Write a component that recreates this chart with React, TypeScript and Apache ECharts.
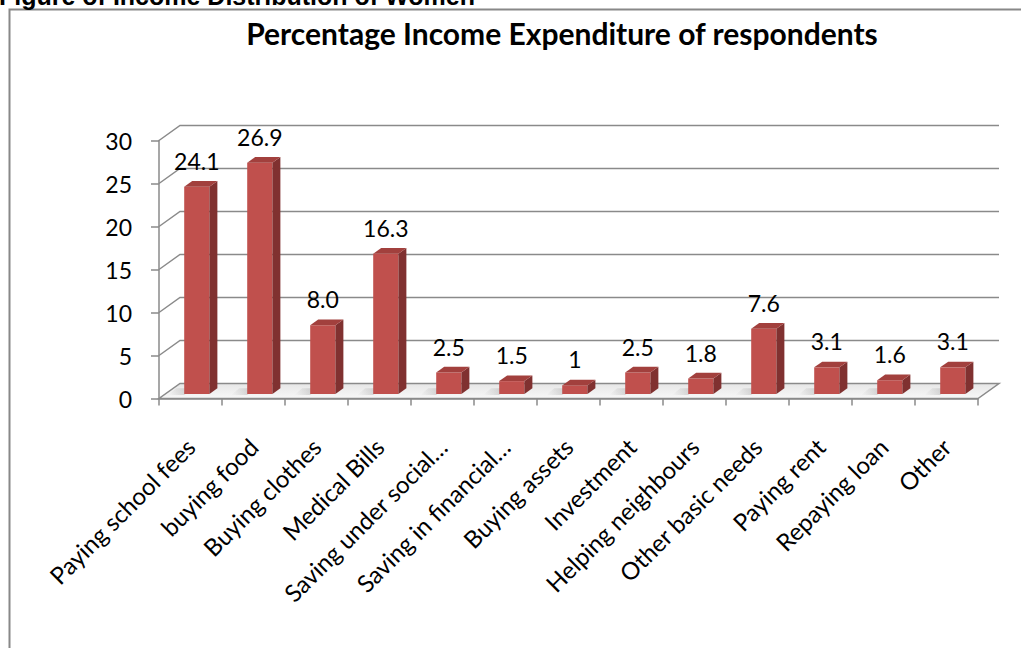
import React, { useEffect, useRef } from "react";
import * as echarts from "echarts";

const categories = [
  "Paying school fees",
  "buying food",
  "Buying clothes",
  "Medical Bills",
  "Saving under social…",
  "Saving in financial…",
  "Buying assets",
  "Investment",
  "Helping neighbours",
  "Other basic needs",
  "Paying rent",
  "Repaying loan",
  "Other",
];
const values = [24.1, 26.9, 8.0, 16.3, 2.5, 1.5, 1, 2.5, 1.8, 7.6, 3.1, 1.6, 3.1];
const valueLabels = ["24.1", "26.9", "8.0", "16.3", "2.5", "1.5", "1", "2.5", "1.8", "7.6", "3.1", "1.6", "3.1"];
const yTicks = [0, 5, 10, 15, 20, 25, 30];
const chartTitle = "Percentage Income Expenditure of respondents";
const figureCaption = "Figure of Income Distribution of Women";

const DX = 21;
const DY = -15;
const FONT = "Lato";
const GRID_COLOR = "#8a8a8a";

export default function App() {
  const ref = useRef<HTMLDivElement>(null);

  useEffect(() => {
    document.body.style.margin = "0";
    const chart = echarts.init(ref.current!, null, { renderer: "svg" });

    const wallSeries = {
      type: "custom",
      z: 1,
      silent: true,
      data: yTicks.map((v) => [0, v]),
      renderItem: (params: any, api: any) => {
        const cs = params.coordSys;
        const v = api.value(1);
        const y = api.coord([0, v])[1];
        const L = cs.x;
        const R = cs.x + cs.width;
        if (v === 0) {
          return {
            type: "polygon",
            shape: { points: [[L, y], [R, y], [R + DX, y + DY], [L + DX, y + DY]] },
            style: {
              fill: {
                type: "linear",
                x: 0, y: 0, x2: 0, y2: 1,
                colorStops: [
                  { offset: 0, color: "#e6e6e6" },
                  { offset: 1, color: "#f8f8f8" },
                ],
              },
              stroke: GRID_COLOR,
              lineWidth: 1.5,
            },
          };
        }
        return {
          type: "polyline",
          shape: { points: [[L, y], [L + DX, y + DY], [R + DX, y + DY]] },
          style: { stroke: GRID_COLOR, lineWidth: 1.5, fill: "none" },
        };
      },
    };

    const barSeries = {
      type: "custom",
      z: 3,
      data: values.map((v, i) => [i, v]),
      renderItem: (params: any, api: any) => {
        const i = api.value(0);
        const v = api.value(1);
        const base = api.coord([i, 0]);
        const top = api.coord([i, v]);
        const band = api.size([1, 0])[0];
        const w = band * 0.4;
        const f0 = 0.3;
        const f1 = 0.68;
        const ox = DX * f0;
        const oy = DY * f0;
        const dx = DX * (f1 - f0);
        const dy = DY * (f1 - f0);
        const x0 = base[0] - w / 2 + ox;
        const x1 = x0 + w;
        const yb = base[1] + oy;
        const yt = top[1] + oy;
        return {
          type: "group",
          children: [
            {
              type: "polygon",
              shape: { points: [[x0 - 16, yb + 1], [x0, yb + 1], [x0 + dx, yb + dy], [x0 + dx - 16, yb + dy]] },
              style: {
                fill: {
                  type: "linear",
                  x: 0, y: 0, x2: 1, y2: 0,
                  colorStops: [
                    { offset: 0, color: "rgba(120,120,120,0)" },
                    { offset: 1, color: "rgba(120,120,120,0.35)" },
                  ],
                },
              },
            },
            {
              type: "rect",
              shape: { x: x0, y: yt, width: w, height: yb - yt },
              style: { fill: "#c0504d" },
            },
            {
              type: "polygon",
              shape: { points: [[x1, yb], [x1 + dx, yb + dy], [x1 + dx, yt + dy], [x1, yt]] },
              style: { fill: "#803130" },
            },
            {
              type: "polygon",
              shape: { points: [[x0, yt], [x1, yt], [x1 + dx, yt + dy], [x0 + dx, yt + dy]] },
              style: { fill: "#a2403d" },
            },
            {
              type: "text",
              x: x0 + w / 2,
              y: yt - 26,
              style: {
                text: valueLabels[i],
                fill: "#000",
                fontSize: 23,
                fontFamily: FONT,
                align: "center",
                verticalAlign: "middle",
              },
            },
          ],
        };
      },
    };

    const option: any = {
      animation: false,
      textStyle: { fontFamily: FONT },
      grid: { left: 159, right: 43, top: 140.5, bottom: 249.5, containLabel: false },
      xAxis: {
        type: "category",
        data: categories,
        axisLine: { show: true, lineStyle: { color: GRID_COLOR, width: 1.5 } },
        axisTick: { show: true, length: 7, lineStyle: { color: GRID_COLOR, width: 1.5 } },
        axisLabel: { interval: 0, rotate: 45, fontSize: 24, color: "#000", margin: 44, fontFamily: FONT },
        splitLine: { show: false },
      },
      yAxis: {
        type: "value",
        min: 0,
        max: 30,
        interval: 5,
        axisLine: { show: true, lineStyle: { color: GRID_COLOR, width: 1.5 } },
        axisTick: { show: true, length: 8, lineStyle: { color: GRID_COLOR, width: 1.5 } },
        axisLabel: { fontSize: 23, color: "#000", margin: 27, fontFamily: FONT },
        splitLine: { show: false },
      },
      graphic: [
        {
          type: "rect",
          z: 0,
          shape: { x: 9.5, y: 9.5, width: 1100, height: 700 },
          style: { fill: "none", stroke: "#888", lineWidth: 2 },
        },
        {
          type: "text",
          x: -1,
          y: 8,
          style: {
            text: figureCaption,
            fontSize: 25,
            fontWeight: "bold",
            fontFamily: "Liberation Sans",
            fill: "#000",
            align: "left",
            verticalAlign: "bottom",
          },
        },
        {
          type: "text",
          x: 562,
          y: 33,
          style: {
            text: chartTitle,
            fontSize: 30,
            fontWeight: "bold",
            fontFamily: FONT,
            fill: "#000",
            align: "center",
            verticalAlign: "middle",
          },
        },
      ],
      series: [wallSeries, barSeries],
    };

    chart.setOption(option);
    return () => chart.dispose();
  }, []);

  return <div ref={ref} style={{ width: 1021, height: 648 }} />;
}
